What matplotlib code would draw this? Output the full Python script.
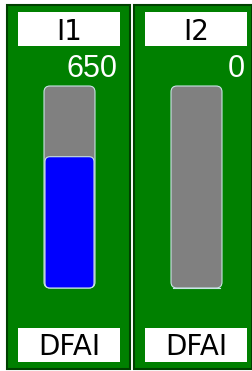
import matplotlib
matplotlib.use("Agg")
import matplotlib.pyplot as plt
from matplotlib.patches import Rectangle, FancyBboxPatch

# valori dei due indicatori
tag_names = ["I1", "I2"]
tag_values = [650, 0]
tag_units = ["DFAI", "DFAI"]
v_max = 1000

W, H = 253, 371
fig = plt.figure(figsize=(W / 100, H / 100), dpi=100)
ax = fig.add_axes([0, 0, 1, 1])
ax.set_xlim(0, W)
ax.set_ylim(H, 0)
ax.axis("off")

# posizioni dei pannelli (in pixel)
panel_x = [7, 134]
panel_w = [123, 118]
box_off = 11
box_w = 102
bar_off = 37
bar_w = 51
bar_top, bar_bot = 86, 288

label_font = dict(fontsize=20, family="DejaVu Sans", color="black")
value_font = dict(fontsize=22, family="Liberation Sans", color="white")

for i in range(len(tag_names)):
    x0 = panel_x[i]
    # pannello verde
    ax.add_patch(Rectangle((x0, 5), panel_w[i], 364, facecolor="#008000",
                           edgecolor="#004000", linewidth=1.5))

    # etichetta in alto
    bx = x0 + box_off
    ax.add_patch(Rectangle((bx, 12), box_w, 34, facecolor="white", edgecolor="none"))
    ax.text(bx + box_w / 2, 40, tag_names[i], ha="center", va="baseline", **label_font)

    # valore
    ax.text(bx + box_w - 2, 77, str(tag_values[i]), ha="right", va="baseline", **value_font)

    # barra
    xb = x0 + bar_off
    ax.add_patch(FancyBboxPatch((xb, bar_top), bar_w, bar_bot - bar_top,
                                boxstyle="round,pad=0,rounding_size=6",
                                facecolor="#808080", edgecolor="#c8e4e4", linewidth=0.8))
    frac = tag_values[i] / v_max
    h = (bar_bot - bar_top) * frac
    if h > 0:
        ax.add_patch(FancyBboxPatch((xb + 1, bar_bot - h), bar_w - 2, h,
                                    boxstyle="round,pad=0,rounding_size=5",
                                    facecolor="#0000ff", edgecolor="#c8e4e4", linewidth=0.8))
    else:
        ax.plot([xb + 2, xb + bar_w - 2], [bar_bot, bar_bot], color="#c8e4e4", lw=0.8)

    # unità in basso
    ax.add_patch(Rectangle((bx, 328), box_w, 34, facecolor="white", edgecolor="none"))
    ax.text(bx + box_w / 2, 355, tag_units[i], ha="center", va="baseline", **label_font)

fig.savefig("out.png", dpi=100, facecolor="white")
